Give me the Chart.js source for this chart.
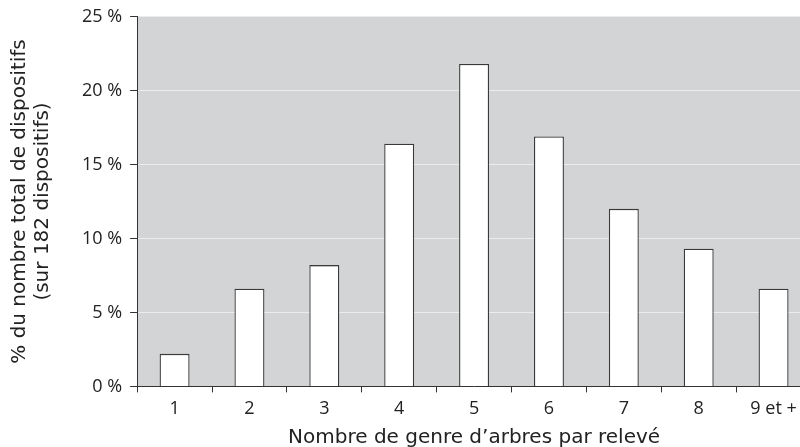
<!DOCTYPE html>
<html>
<head>
<meta charset="utf-8">
<script src="https://cdn.jsdelivr.net/npm/chart.js@4"></script>
<style>
html,body{margin:0;padding:0;background:#fff;overflow:hidden;width:800px;height:447px;}
#wrap{position:absolute;left:0;top:0;width:811px;height:447px;}
</style>
</head>
<body>
<div id="wrap"><canvas id="c"></canvas></div>
<script>
const categories = ['1','2','3','4','5','6','7','8','9 et +'];
const percentValues = [2.2, 6.6, 8.2, 16.4, 21.8, 16.9, 12.0, 9.3, 6.6];
const yTicks = [0, 5, 10, 15, 20, 25];
const xTitle = 'Nombre de genre d\u2019arbres par relevé';
const yTitle = ['% du nombre total de dispositifs', '(sur 182 dispositifs)'];

const bgPlugin = {
  id: 'plotBg',
  beforeDraw(chart) {
    const {ctx, chartArea: a} = chart;
    ctx.save();
    ctx.fillStyle = '#d3d4d6';
    ctx.fillRect(a.left, a.top, a.right - a.left, a.bottom - a.top);
    ctx.restore();
  }
};

const tickFam = '"Open Sans", "DejaVu Sans", sans-serif';
const titleFam = '"DejaVu Sans", sans-serif';

new Chart(document.getElementById('c'), {
  type: 'bar',
  data: {
    labels: categories,
    datasets: [{
      data: percentValues,
      backgroundColor: '#ffffff',
      borderColor: '#3a3a3a',
      borderWidth: 1.3,
      barPercentage: 0.4,
      categoryPercentage: 1.0
    }]
  },
  options: {
    responsive: true,
    maintainAspectRatio: false,
    animation: false,
    layout: { padding: { top: 0, right: 0, bottom: 0, left: 0 } },
    plugins: { legend: { display: false }, tooltip: { enabled: false } },
    scales: {
      x: {
        grid: { drawOnChartArea: false, drawTicks: true, tickLength: 6, tickColor: '#333', offset: true },
        border: { display: true, color: '#333', width: 1 },
        ticks: { color: '#222', font: { family: tickFam, size: 18, lineHeight: 1.2 }, padding: 6, maxRotation: 0 },
        title: { display: true, text: xTitle, color: '#222', font: { family: titleFam, size: 20, lineHeight: 0.95 }, padding: { top: 2, bottom: 0 } }
      },
      y: {
        min: 0, max: 25,
        afterBuildTicks(scale) { scale.ticks = yTicks.map(v => ({ value: v })); },
        grid: { color: '#ececec', lineWidth: 1, drawTicks: true, tickLength: 7, tickColor: '#333' },
        border: { display: true, color: '#333', width: 1 },
        ticks: { color: '#222', font: { family: tickFam, size: 18, lineHeight: 0.95 }, padding: 8, callback: v => v + ' %' },
        title: { display: true, text: yTitle, color: '#222', font: { family: titleFam, size: 20, lineHeight: 1.15 }, padding: { top: 8, bottom: 20 } }
      }
    }
  },
  plugins: [bgPlugin]
});
</script>
</body>
</html>
